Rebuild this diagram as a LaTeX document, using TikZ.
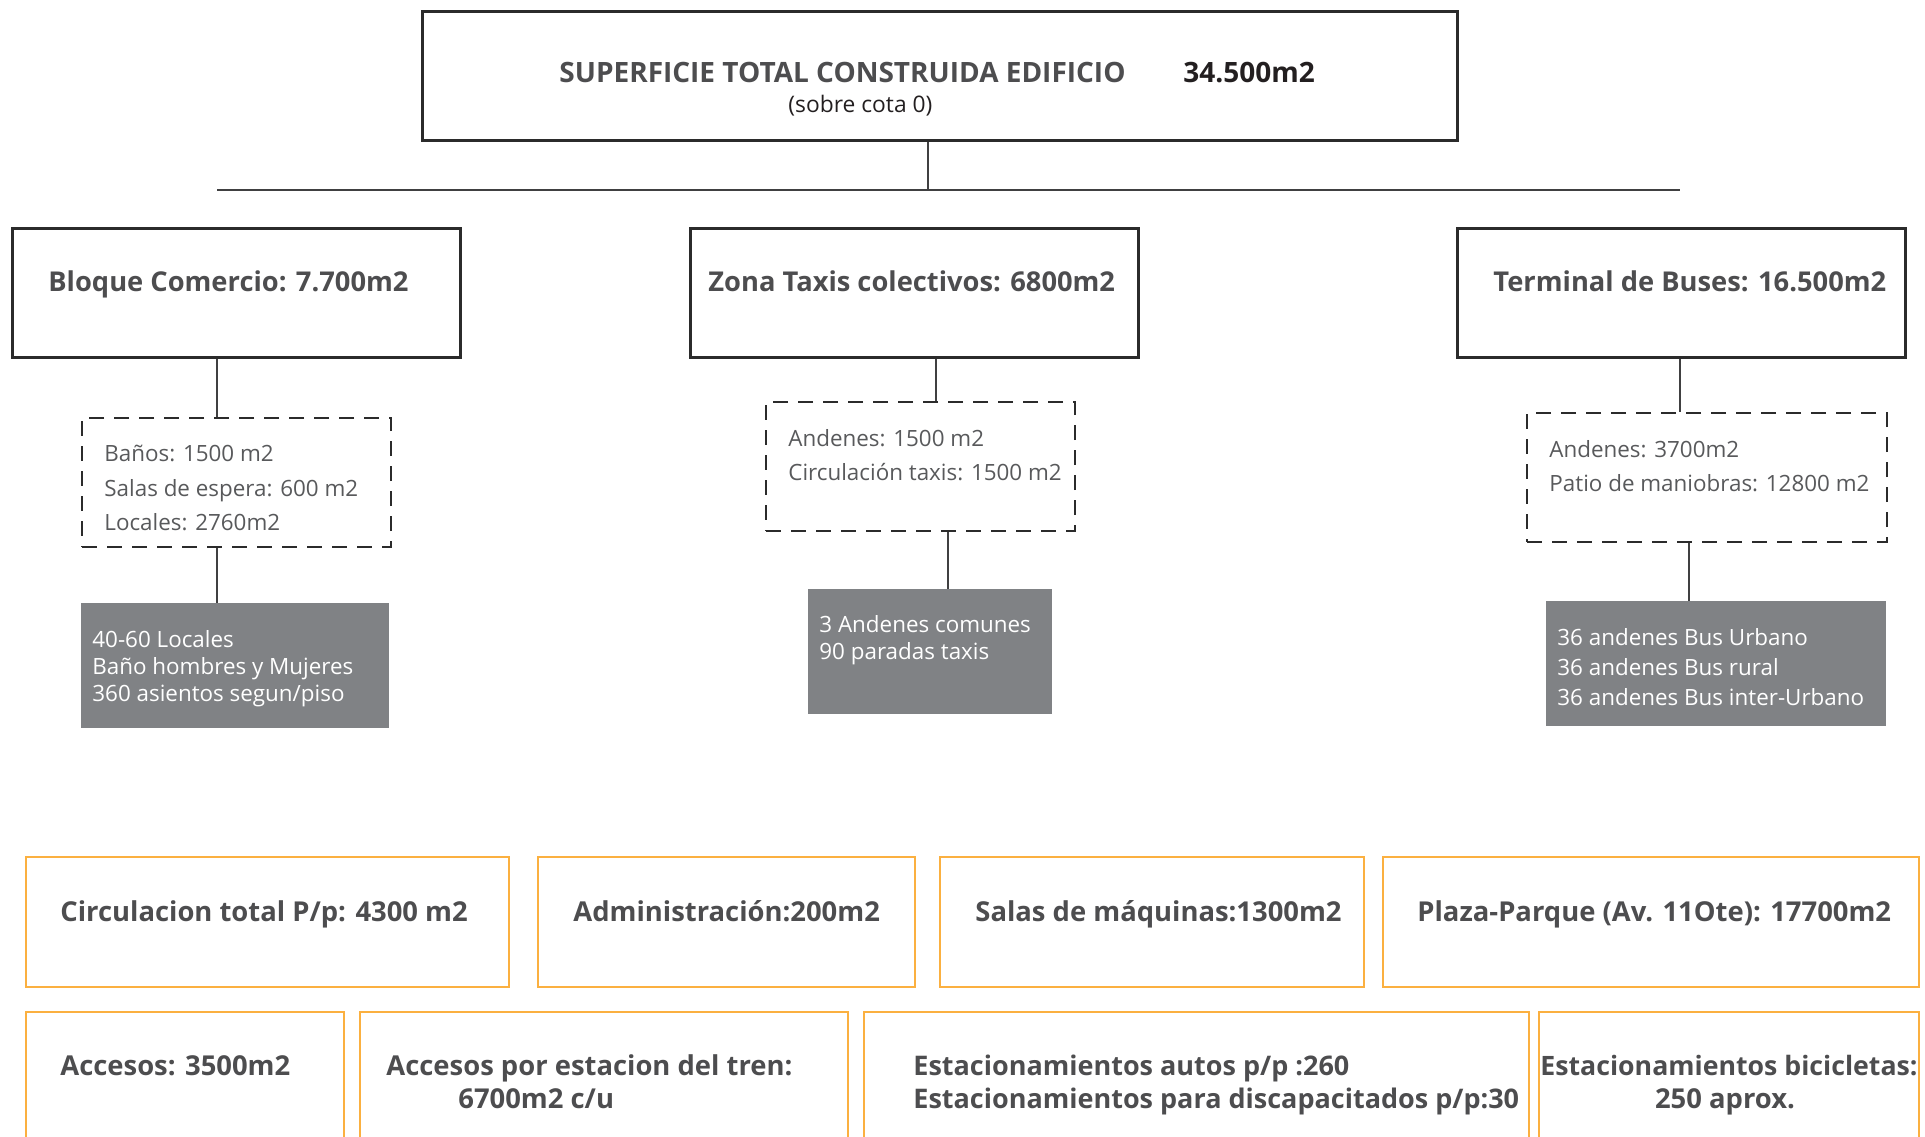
\documentclass[tikz,border=0pt]{standalone}
\usepackage{fontspec}
\setmainfont{Open Sans}
\usepackage{tikz}

\definecolor{tinta}{HTML}{4D4D4F}
\definecolor{tintaclara}{HTML}{58595B}
\definecolor{oscuro}{HTML}{231F20}
\definecolor{borde}{HTML}{2B2B2B}
\definecolor{linea}{HTML}{404041}
\definecolor{relleno}{HTML}{808285}
\definecolor{naranja}{HTML}{FBB040}

\begin{document}
\begin{tikzpicture}[x=0.5pt, y=-0.5pt,
	caja/.style={draw=borde, line width=1.3pt, anchor=north west, inner sep=0pt},
	punteada/.style={draw=borde, line width=1.2pt, dash pattern=on 7.5pt off 5pt, anchor=north west, inner sep=0pt},
	gris/.style={fill=relleno, anchor=north west, inner sep=0pt},
	marco/.style={draw=naranja, line width=1.2pt, anchor=north west, inner sep=0pt},
	rama/.style={draw=linea, line width=1.2pt},
	titulo/.style={anchor=base west, inner sep=0pt, text=tinta, font=\bfseries\fontsize{14}{16}\selectfont},
	encabezado/.style={anchor=base west, inner sep=0pt, text=tinta, font=\bfseries\fontsize{13.65}{16}\selectfont},
	detalle/.style={anchor=north west, inner sep=0pt, align=left, text=tintaclara, font=\fontsize{11.2}{17.25}\selectfont},
	nota/.style={anchor=north west, inner sep=0pt, align=left, text=white, font=\fontsize{11.2}{13.5}\selectfont},
	dato/.style={anchor=base west, inner sep=0pt, text=tinta, font=\bfseries\fontsize{13.7}{16.5}\selectfont}]

\useasboundingbox (0,0) rectangle (1925,1136);
\clip (0,0) rectangle (1925,1136);

\node[caja, minimum width=517.5pt, minimum height=64.5pt] (total) at (421,10) {};
\node[titulo] (totalTxt) at (559,82) {SUPERFICIE TOTAL CONSTRUIDA EDIFICIO};
\node[titulo, text=oscuro] (totalM2) at (1183,82) {34.500m2};
\node[anchor=base west, inner sep=0pt, text=oscuro, font=\fontsize{11.4}{13}\selectfont] (cota) at (788,112) {(sobre cota 0)};

\coordinate (barra) at (928,190);
\coordinate (barraIzq) at (217,190);
\coordinate (barraDer) at (1680,190);
\draw[rama] (total.south -| barra) -- (barra);
\draw[rama] (barraIzq) -- (barraDer);

\node[caja, minimum width=224pt, minimum height=64.5pt] (bloque) at (11,227) {};
\node[caja, minimum width=224pt, minimum height=64.5pt] (zona) at (689,227) {};
\node[caja, minimum width=224pt, minimum height=64.5pt] (terminal) at (1456,227) {};
\node[encabezado] (bloqueTxt) at (48,291) {Bloque Comercio: 7.700m2};
\node[encabezado] (zonaTxt) at (708,291) {Zona Taxis colectivos: 6800m2};
\node[encabezado] (terminalTxt) at (1493,291) {Terminal de Buses: 16.500m2};

\node[punteada, minimum width=154.5pt, minimum height=64.5pt] (bloqueDet) at (81,417) {};
\node[punteada, minimum width=154.5pt, minimum height=64.5pt] (zonaDet) at (765,401) {};
\node[punteada, minimum width=180pt, minimum height=64.5pt] (terminalDet) at (1526,412) {};
\node[detalle] (bloqueLista) at (104,445) {Baños: 1500 m2\\Salas de espera: 600 m2\\Locales: 2760m2};
\node[detalle] (zonaLista) at (788,429) {Andenes: 1500 m2\\Circulación taxis: 1500 m2};
\node[detalle] (terminalLista) at (1549,440) {Andenes: 3700m2\\Patio de maniobras: 12800 m2};

\node[gris, minimum width=154pt, minimum height=62.5pt] (bloqueGris) at (81,603) {};
\node[gris, minimum width=122pt, minimum height=62.5pt] (zonaGris) at (808,589) {};
\node[gris, minimum width=170pt, minimum height=62.5pt] (terminalGris) at (1546,601) {};
\node[nota] (bloqueNota) at (92,630) {40-60 Locales\\Baño hombres y Mujeres\\360 asientos segun/piso};
\node[nota] (zonaNota) at (819,615) {3 Andenes comunes\\90 paradas taxis};
\node[nota, font=\fontsize{11.2}{15}\selectfont] (terminalNota) at (1557,628) {36 andenes Bus Urbano\\36 andenes Bus rural\\36 andenes Bus inter-Urbano};

\draw[rama] (bloque.south -| barraIzq) -- (bloqueDet.north -| barraIzq);
\draw[rama] (bloqueDet.south -| barraIzq) -- (bloqueGris.north -| barraIzq);
\draw[rama] (zona.south -| 936,0) -- (zonaDet.north -| 936,0);
\draw[rama] (zonaDet.south -| 948,0) -- (zonaGris.north -| 948,0);
\draw[rama] (terminal.south -| barraDer) -- (terminalDet.north -| barraDer);
\draw[rama] (terminalDet.south -| 1689,0) -- (terminalGris.north -| 1689,0);

\node[marco, minimum width=241.5pt, minimum height=65pt] (circulacion) at (25,856) {};
\node[marco, minimum width=188.5pt, minimum height=65pt] (admin) at (537,856) {};
\node[marco, minimum width=212pt, minimum height=65pt] (maquinas) at (939,856) {};
\node[marco, minimum width=268pt, minimum height=65pt] (plaza) at (1382,856) {};
\node[dato] (circulacionTxt) at (60,921) {Circulacion total P/p: 4300 m2};
\node[dato] (adminTxt) at (573,921) {Administración:200m2};
\node[dato] (maquinasTxt) at (975,921) {Salas de máquinas:1300m2};
\node[dato] (plazaTxt) at (1417,921) {Plaza-Parque (Av. 11Ote): 17700m2};

\node[marco, minimum width=159pt, minimum height=74.5pt] (accesos) at (25,1011) {};
\node[marco, minimum width=244pt, minimum height=74.5pt] (tren) at (359,1011) {};
\node[marco, minimum width=332.5pt, minimum height=74.5pt] (autos) at (863,1011) {};
\node[marco, minimum width=190pt, minimum height=74.5pt] (bicis) at (1538,1011) {};
\node[dato] (accesosTxt) at (60,1075) {Accesos: 3500m2};
\node[dato] (trenTxt) at (386,1075) {Accesos por estacion del tren:};
\node[dato] (trenM2) at (458,1108) {6700m2 c/u};
\node[dato, font=\bfseries\fontsize{13.5}{16.5}\selectfont] (autosTxt) at (913,1075) {Estacionamientos autos p/p :260};
\node[dato, font=\bfseries\fontsize{13.5}{16.5}\selectfont] (discTxt) at (913,1108) {Estacionamientos para discapacitados p/p:30};
\node[dato, anchor=base, font=\bfseries\fontsize{13.35}{16.5}\selectfont] (bicisTxt) at (1729,1075) {Estacionamientos bicicletas:};
\node[dato, anchor=base] (bicisNum) at (1725,1108) {250 aprox.};
\end{tikzpicture}
\end{document}
